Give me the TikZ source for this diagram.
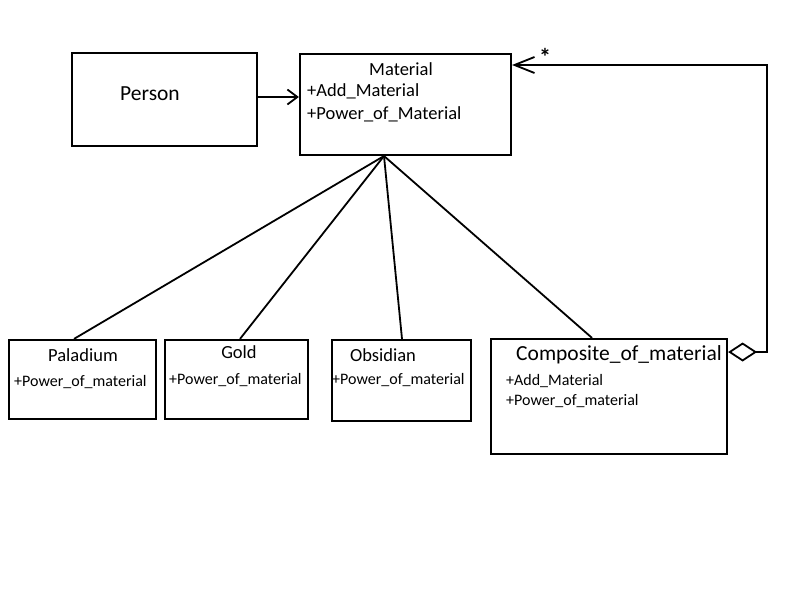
\documentclass[tikz,border=0pt]{standalone}
\usepackage{fontspec}
\setmainfont{Carlito}
\usetikzlibrary{arrows.meta}
\begin{document}
\begin{tikzpicture}[x=1pt,y=-1pt,
  box/.style={draw,line width=2.2pt,inner sep=0pt,minimum width=#1},
  big/.style={font=\fontsize{18.5}{21}\selectfont,inner sep=0pt},
  huge/.style={font=\fontsize{21.5}{24}\selectfont,inner sep=0pt},
  small/.style={font=\fontsize{16}{18}\selectfont,inner sep=0pt,anchor=west},
  conn/.style={line width=1.8pt}]
\useasboundingbox[fill=white] (0,0) rectangle (800,600);
% boxes
\node[box=185pt,minimum height=93pt] (per) at (164.5,99.5) {};
\node[box=211pt,minimum height=101pt] (mat) at (405.5,104.5) {};
\node[box=147pt,minimum height=79pt] (pal) at (82.5,379.5) {};
\node[box=143pt,minimum height=79pt] (gold) at (236.5,379.5) {};
\node[box=139pt,minimum height=81pt] (obs) at (401.5,380.5) {};
\node[box=236pt,minimum height=115pt] (comp) at (609,396.5) {};
% texts
\node[huge] (tper) at (150,94) {Person};
\node[big] (tmat) at (401,69) {Material};
\node[big,anchor=west] (tmat1) at (307,91) {+Add\_Material};
\node[big,anchor=west] (tmat2) at (307,114) {+Power\_of\_Material};
\node[big] (tpal) at (83,355) {Paladium};
\node[small] (tpal1) at (14,382) {+Power\_of\_material};
\node[big] (tgold) at (239,352) {Gold};
\node[small] (tgold1) at (169,380) {+Power\_of\_material};
\node[big] (tobs) at (383,355) {Obsidian};
\node[small] (tobs1) at (332,380) {+Power\_of\_material};
\node[huge] (tcomp) at (619,355) {Composite\_of\_material};
\node[small] (tcomp1) at (506,381) {+Add\_Material};
\node[small] (tcomp2) at (506,401) {+Power\_of\_material};
\node[font=\bfseries\fontsize{24}{26}\selectfont,inner sep=0pt] (star) at (545,57) {*};
% connectors
\coordinate (hub) at (384,156);
\draw[conn] (hub) -- ([xshift=-8.5pt]pal.north);
\draw[conn] (hub) -- ([xshift=3.5pt]gold.north);
\draw[conn] (hub) -- ([xshift=0.5pt]obs.north);
\draw[conn] (hub) -- ([xshift=-17pt]comp.north);
\draw[conn,-{Straight Barb[length=10pt,width=15pt,line width=1.8pt]}] ([yshift=2.5pt]per.east) -- ([yshift=7.5pt]mat.west);
\coordinate (c1) at (767,352);
\coordinate (c2) at (767,65);
\draw[conn,{Diamond[open,length=29pt,width=19pt,line width=1.8pt]}-{Straight Barb[length=20pt,width=16pt,line width=1.8pt]}]
  ([yshift=44.5pt]comp.east) -- (c1) -- (c2) -- ([yshift=39.5pt]mat.east);
\end{tikzpicture}
\end{document}
